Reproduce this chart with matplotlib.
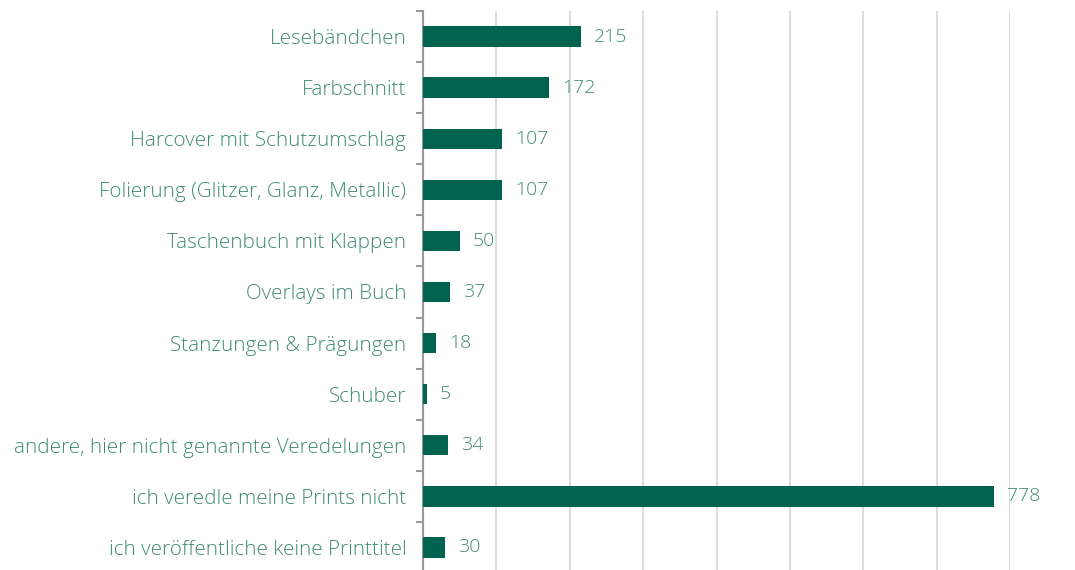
import matplotlib
matplotlib.use("Agg")
import matplotlib.pyplot as plt
import numpy as np

categories = [
    "Lesebändchen",
    "Farbschnitt",
    "Harcover mit Schutzumschlag",
    "Folierung (Glitzer, Glanz, Metallic)",
    "Taschenbuch mit Klappen",
    "Overlays im Buch",
    "Stanzungen & Prägungen",
    "Schuber",
    "andere, hier nicht genannte Veredelungen",
    "ich veredle meine Prints nicht",
    "ich veröffentliche keine Printtitel",
]
values = [215, 172, 107, 107, 50, 37, 18, 5, 34, 778, 30]

bar_color = "#00634F"
text_color = "#3E8A76"

plt.rcParams['font.family'] = ['Open Sans', 'DejaVu Sans']

fig = plt.figure(figsize=(10.75, 5.70), dpi=100)
ax = fig.add_axes([423/1075, -3/570, (1010-423)/1075, (573-11)/570])

y = np.arange(len(categories))
ax.barh(y, values, height=0.4, color=bar_color, zorder=3)
ax.set_ylim(len(categories) - 0.5, -0.5)
ax.set_xlim(0, 800)

ax.set_xticks(np.arange(100, 801, 100))
ax.tick_params(axis='x', length=0, labelbottom=False)
ax.grid(axis='x', color='#d9d9d9', linewidth=1.3, zorder=0)

ax.set_yticks(y)
ax.set_yticklabels(categories, color=text_color, fontsize=14.9, fontweight='light')
ax.tick_params(axis='y', which='major', length=0, pad=12)
ax.set_yticks(np.arange(-0.5, len(categories), 1), minor=True)
ax.tick_params(axis='y', which='minor', length=5, width=1.5, color='#999999', direction='out')

for s in ['top', 'right', 'bottom']:
    ax.spines[s].set_visible(False)
ax.spines['left'].set_color('#999999')
ax.spines['left'].set_linewidth(1.5)

for yi, v in zip(y, values):
    ax.text(v + 18, yi, str(v), va='center', ha='left', color=text_color,
            fontsize=14, fontweight='light', clip_on=False)

fig.savefig("out.png", dpi=100)
